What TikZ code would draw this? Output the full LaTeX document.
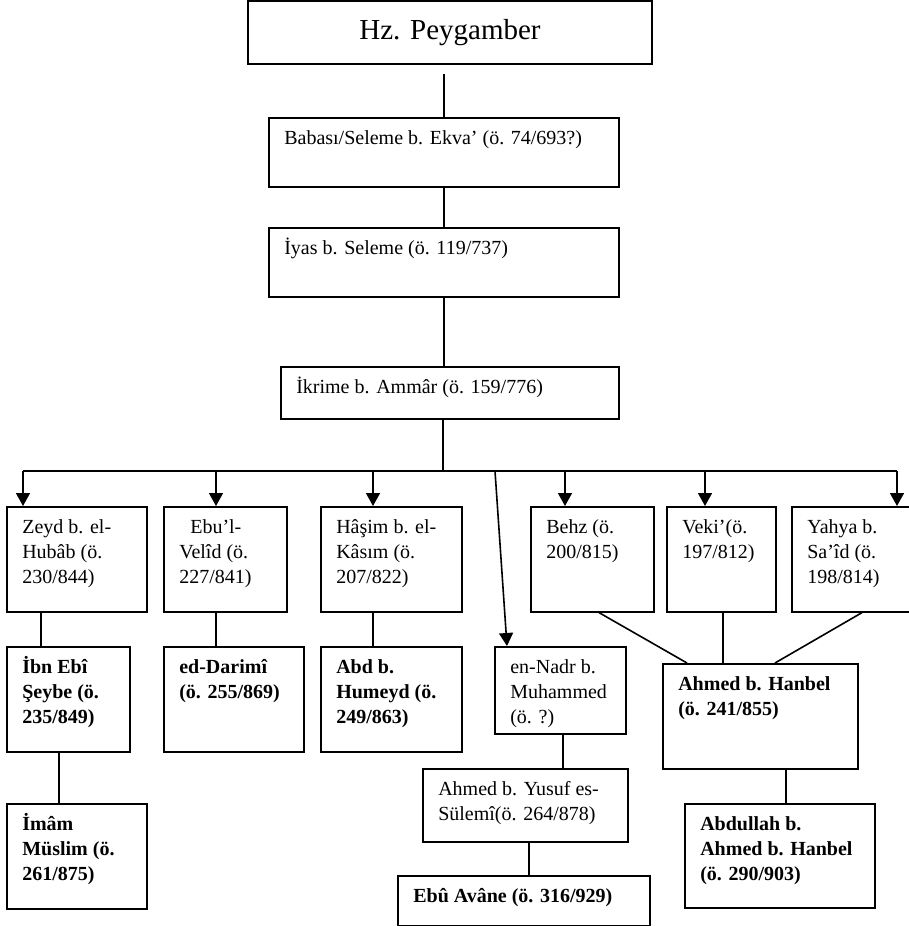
\documentclass[tikz,border=0pt]{standalone}
\usepackage{fontspec}
\setmainfont{Liberation Serif}
\usetikzlibrary{arrows.meta,calc}
\tikzset{
    kutu/.style={
        rectangle,
        draw,
        line width=1.6pt,
        inner sep=0pt,
        anchor=north west,
        font=\fontsize{20}{25}\selectfont
    },
    kalin/.style={kutu, font=\fontsize{20}{25}\selectfont\bfseries},
    hat/.style={line width=1.6pt},
    ok/.style={hat, -{Triangle[length=13pt,width=14pt]}}
}
\newcommand{\metin}[3]{\parbox[t][#2pt][t]{#1pt}{\vspace*{9pt}\raggedright\leftskip=15.5pt\strut #3}}

\begin{document}
\begin{tikzpicture}[x=1pt, y=-1pt]
    \useasboundingbox (0,0) rectangle (909,926);

    \node[kutu, anchor=center, minimum width=404pt, minimum height=63pt,
          font=\fontsize{29}{34}\selectfont] (hz) at (450,32.5) {Hz. Peygamber};
    \node[kutu] (bab) at (268,117) {\metin{350}{69}{Babası/Seleme b. Ekva’ (ö. 74/693?)}};
    \node[kutu] (iyas) at (268,227) {\metin{350}{69}{İyas b. Seleme (ö. 119/737)}};
    \node[kutu] (ikr) at (280,366) {\metin{338}{52}{İkrime b. Ammâr (ö. 159/776)}};

    % ikrime'den rivayet edenler
    \node[kutu] (zeyd) at (6,506) {\metin{140}{105}{Zeyd b. el-\\Hubâb (ö.\\230/844)}};
    \node[kutu] (ebu) at (163,506) {\metin{123}{105}{\hspace*{11pt}Ebu’l-\\Velîd (ö.\\227/841)}};
    \node[kutu] (hasim) at (320,506) {\metin{141}{105}{Hâşim b. el-\\Kâsım (ö.\\207/822)}};
    \node[kutu] (behz) at (530,506) {\metin{123}{105}{Behz (ö.\\200/815)}};
    \node[kutu] (veki) at (666,506) {\metin{109}{105}{Veki’(ö.\\197/812)}};
    \node[kutu] (yahya) at (791,506) {\metin{125}{105}{Yahya b.\\Sa’îd (ö.\\198/814)}};
    \node[kutu] (nadr) at (494,646) {\metin{131}{87}{en-Nadr b.\\Muhammed\\(ö. ?)}};
    \node[kutu] (yusuf) at (422,768) {\metin{205}{73}{Ahmed b. Yusuf es-\\Sülemî(ö. 264/878)}};

    % musannifler
    \node[kalin] (ibn) at (6,646) {\metin{123}{105}{İbn Ebî\\Şeybe (ö.\\235/849)}};
    \node[kalin] (darimi) at (163,646) {\metin{140}{105}{ed-Darimî\\(ö. 255/869)}};
    \node[kalin] (abd) at (320,646) {\metin{141}{105}{Abd b.\\Humeyd (ö.\\249/863)}};
    \node[kalin] (imam) at (6,803) {\metin{140}{105}{İmâm\\Müslim (ö.\\261/875)}};
    \node[kalin] (avane) at (397,875) {\metin{252}{50}{Ebû Avâne (ö. 316/929)}};
    \node[kalin] (hanbel) at (662,663) {\metin{195}{105}{Ahmed b. Hanbel\\(ö. 241/855)}};
    \node[kalin] (abdullah) at (684,803) {\metin{190}{104}{Abdullah b.\\Ahmed b. Hanbel\\(ö. 290/903)}};

    \draw[hat] ($(bab.north |- hz.south)+(0,9)$) -- (bab.north);
    \draw[hat] (bab.south) -- (iyas.north);
    \draw[hat] (iyas.south) -- (iyas.south |- ikr.north);

    \coordinate (bar) at (443,471);
    \coordinate (o1) at ([xshift=17pt]zeyd.north west);
    \coordinate (o2) at ([xshift=53pt]ebu.north west);
    \coordinate (o3) at ([xshift=53pt]hasim.north west);
    \coordinate (o4) at ([xshift=35pt]behz.north west);
    \coordinate (o5) at ([xshift=39pt]veki.north west);
    \coordinate (o6) at ([xshift=106pt]yahya.north west);
    \coordinate (o7) at ([xshift=13pt]nadr.north west);

    \draw[hat] (bar |- ikr.south) -- (bar);
    \draw[hat] (o1 |- bar) -- (o6 |- bar);
    \foreach \o in {o1,o2,o3,o4,o5,o6}
        \draw[ok] (\o |- bar) -- (\o);
    \draw[ok] ($(bar)+(52,0)$) -- (o7);

    \draw[hat] ([xshift=35pt]zeyd.south west) -- ([xshift=35pt]ibn.north west);
    \draw[hat] ([xshift=53pt]ebu.south west) -- ([xshift=53pt]darimi.north west);
    \draw[hat] ([xshift=53pt]hasim.south west) -- ([xshift=53pt]abd.north west);
    \draw[hat] ([xshift=53pt]ibn.south west) -- ([xshift=53pt]imam.north west);
    \draw[hat] ([xshift=69pt]nadr.south west) -- ([xshift=141pt]yusuf.north west);
    \draw[hat] ([xshift=107pt]yusuf.south west) -- ([xshift=132pt]avane.north west);
    \draw[hat] ([xshift=69pt]behz.south west) -- ([xshift=25pt]hanbel.north west);
    \draw[hat] ([xshift=57pt]veki.south west) -- ([xshift=61pt]hanbel.north west);
    \draw[hat] ([xshift=71pt]yahya.south west) -- ([xshift=113pt]hanbel.north west);
    \draw[hat] ([xshift=124pt]hanbel.south west) -- ([xshift=102pt]abdullah.north west);

\end{tikzpicture}
\end{document}
